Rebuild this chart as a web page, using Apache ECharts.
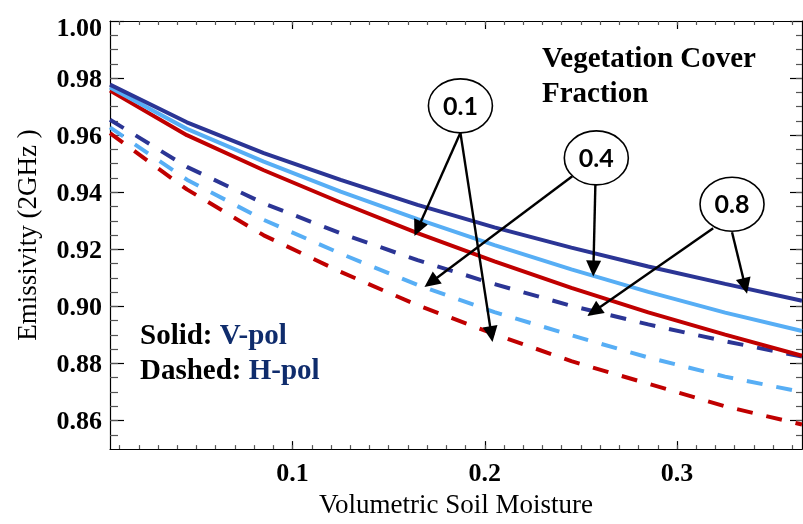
<!DOCTYPE html>
<html>
<head>
<meta charset="utf-8">
<script src="https://cdn.jsdelivr.net/npm/echarts@6/dist/echarts.min.js"></script>
<style>
  html, body { margin: 0; padding: 0; background: #fff; }
  #chart { width: 803px; height: 524px; }
</style>
</head>
<body>
<div id="chart"></div>
<script>
// Volumetric soil moisture sample points
const moisture = [0.005, 0.045, 0.085, 0.125, 0.165, 0.205, 0.245, 0.285, 0.325, 0.365];

// V-pol emissivity by vegetation cover fraction (solid lines)
const vpol08 = [0.9777, 0.9645, 0.9537, 0.9443, 0.9356, 0.9277, 0.9206, 0.9140, 0.9079, 0.9020];
const vpol04 = [0.9767, 0.9622, 0.9507, 0.9402, 0.9306, 0.9215, 0.9130, 0.9051, 0.8978, 0.8914];
const vpol01 = [0.9756, 0.9600, 0.9477, 0.9364, 0.9257, 0.9158, 0.9065, 0.8979, 0.8901, 0.8827];

// H-pol emissivity by vegetation cover fraction (dashed lines)
const hpol08 = [0.9654, 0.9489, 0.9361, 0.9256, 0.9162, 0.9078, 0.9002, 0.8937, 0.8878, 0.8824];
const hpol04 = [0.9627, 0.9444, 0.9303, 0.9185, 0.9075, 0.8980, 0.8899, 0.8821, 0.8754, 0.8700];
const hpol01 = [0.9607, 0.9410, 0.9249, 0.9121, 0.9004, 0.8903, 0.8808, 0.8729, 0.8650, 0.8586];

// Axis ranges and tick labels
const xRange = [0.005, 0.365];
const yRange = [0.85, 1.00];
const xTickLabels = [0.1, 0.2, 0.3];
const yTickLabels = [0.86, 0.88, 0.90, 0.92, 0.94, 0.96, 0.98, 1.00];

// Callouts: label, bubble centre and arrow start/tip points in data units
const callouts = [
  { label: '0.1', center: [0.1873, 0.97027],
    arrows: [ { from: [0.1873, 0.96081], to: [0.1634, 0.92466] },
              { from: [0.1873, 0.96081], to: [0.2040, 0.88750] } ] },
  { label: '0.4', center: [0.2580, 0.95203],
    arrows: [ { from: [0.2455, 0.94561], to: [0.1686, 0.90676] },
              { from: [0.2575, 0.94257], to: [0.2564, 0.91047] } ] },
  { label: '0.8', center: [0.3286, 0.93581],
    arrows: [ { from: [0.3188, 0.92736], to: [0.2533, 0.89662] },
              { from: [0.3286, 0.92601], to: [0.3364, 0.90439] } ] }
];

const SERIF = '"Liberation Serif", "Times New Roman", Times, serif';
const DARK = '#2b3595';
const LIGHT = '#57aef5';
const RED = '#c00000';
const NAVY = '#0f2c6c';

// minor tick positions
const xMinor = [];
for (let i = 1; i <= 36; i++) xMinor.push(+(i * 0.01).toFixed(3));
const yMinor = [];
for (let i = 1; i < 30; i++) yMinor.push(+(0.85 + i * 0.005).toFixed(3));

const pairs = (ys) => moisture.map((x, i) => [x, ys[i]]);

function xAxisDef(position, values, len, color, withLabel, withLine) {
  const ax = {
    type: 'value', position: position, min: xRange[0], max: xRange[1], interval: 0.005,
    axisLine: { show: withLine, onZero: false, lineStyle: { color: '#000', width: 1.2 } },
    axisTick: { show: true, inside: true, length: len, customValues: values,
                lineStyle: { color: color, width: 1.2 } },
    axisLabel: { show: false },
    splitLine: { show: false }
  };
  if (withLabel) {
    ax.axisLabel = {
      show: true, customValues: xTickLabels, margin: 12,
      formatter: (v) => (+v).toFixed(1),
      fontFamily: SERIF, fontWeight: 'bold', fontSize: 26, color: '#000', lineHeight: 26
    };
    ax.name = 'Volumetric Soil Moisture';
    ax.nameLocation = 'middle';
    ax.nameGap = 40;
    ax.nameTextStyle = { fontFamily: SERIF, fontSize: 27, color: '#000', lineHeight: 27 };
  }
  return ax;
}

function yAxisDef(position, values, len, color, withLabel, withLine) {
  const ax = {
    type: 'value', position: position, min: yRange[0], max: yRange[1], interval: 0.05,
    axisLine: { show: withLine, onZero: false, lineStyle: { color: '#000', width: 1.2 } },
    axisTick: { show: true, inside: true, length: len, customValues: values,
                lineStyle: { color: color, width: 1.2 } },
    axisLabel: { show: false },
    splitLine: { show: false }
  };
  if (withLabel) {
    const lab = { fontFamily: SERIF, fontWeight: 'bold', fontSize: 26, color: '#000', lineHeight: 26 };
    ax.axisLabel = {
      show: true, customValues: yTickLabels, margin: 8,
      formatter: (v) => (Math.abs(v - 1) < 1e-9 ? '{t|' : '{n|') + (+v).toFixed(2) + '}',
      rich: {
        n: Object.assign({ padding: [4, 0, 0, 0] }, lab),
        t: Object.assign({ padding: [16, 0, 0, 0] }, lab)
      }
    };
    ax.name = 'Emissivity (2GHz )';
    ax.nameLocation = 'middle';
    ax.nameGap = 68;
    ax.nameTextStyle = { fontFamily: SERIF, fontSize: 27, color: '#000', lineHeight: 27 };
  }
  return ax;
}

function lineSeries(name, ys, color, dashed) {
  return {
    name: name, type: 'line', data: pairs(ys), xAxisIndex: 0, yAxisIndex: 0,
    symbol: 'none', smooth: false, clip: true,
    lineStyle: { color: color, width: 4, type: dashed ? [16, 14] : 'solid', cap: 'butt' },
    z: dashed ? 2 : 3
  };
}

const chart = echarts.init(document.getElementById('chart'), null, { renderer: 'canvas' });

chart.setOption({
  animation: false,
  backgroundColor: '#fff',
  grid: { left: 110, right: 1, top: 12, bottom: 69 },
  xAxis: [
    xAxisDef('bottom', xTickLabels, 8, '#000', true, true),
    xAxisDef('bottom', xMinor, 4, '#555', false, false),
    xAxisDef('top', xTickLabels, 8, '#000', false, true),
    xAxisDef('top', xMinor, 4, '#555', false, false)
  ],
  yAxis: [
    yAxisDef('left', yTickLabels, 14, '#000', true, true),
    yAxisDef('left', yMinor, 8, '#555', false, false),
    yAxisDef('right', yTickLabels, 12, '#000', false, true),
    yAxisDef('right', yMinor, 6, '#555', false, false)
  ],
  series: [
    lineSeries('H-pol 0.1', hpol01, RED, true),
    lineSeries('H-pol 0.4', hpol04, LIGHT, true),
    lineSeries('H-pol 0.8', hpol08, DARK, true),
    lineSeries('V-pol 0.1', vpol01, RED, false),
    lineSeries('V-pol 0.4', vpol04, LIGHT, false),
    lineSeries('V-pol 0.8', vpol08, DARK, false)
  ]
});

// Annotations drawn in pixel space from data-unit anchors
const toPx = (p) => chart.convertToPixel({ gridIndex: 0 }, p);
const graphics = [];

callouts.forEach((c) => {
  c.arrows.forEach((a) => {
    const s = toPx(a.from), t = toPx(a.to);
    const dx = t[0] - s[0], dy = t[1] - s[1];
    const len = Math.hypot(dx, dy);
    const ux = dx / len, uy = dy / len;
    const headLen = 16, headHalf = 7.5;
    const bx = t[0] - ux * headLen, by = t[1] - uy * headLen;
    graphics.push({
      type: 'line', z: 50,
      shape: { x1: s[0], y1: s[1], x2: bx + ux * 2, y2: by + uy * 2 },
      style: { stroke: '#000', lineWidth: 2.4 }
    });
    graphics.push({
      type: 'polygon', z: 50,
      shape: { points: [ [t[0], t[1]],
                         [bx - uy * headHalf, by + ux * headHalf],
                         [bx + uy * headHalf, by - ux * headHalf] ] },
      style: { fill: '#000' }
    });
  });
  const cp = toPx(c.center);
  graphics.push({
    type: 'ellipse', z: 60,
    shape: { cx: cp[0], cy: cp[1], rx: 32, ry: 27 },
    style: { fill: '#fff', stroke: '#000', lineWidth: 1.6 }
  });
  graphics.push({
    type: 'text', z: 61, x: cp[0], y: cp[1] + 1,
    style: { text: c.label, fill: '#000', font: 'bold 25px Lato, "Open Sans", sans-serif',
             align: 'center', verticalAlign: 'middle' }
  });
});

graphics.push({
  type: 'text', z: 40, x: 542, y: 42,
  style: { text: 'Vegetation Cover\nFraction', fill: '#000', fontFamily: SERIF,
           fontWeight: 'bold', fontSize: 29, lineHeight: 35, align: 'left', verticalAlign: 'top' }
});

const keyRich = {
  k: { fontFamily: SERIF, fontWeight: 'bold', fontSize: 29, lineHeight: 35, fill: '#000' },
  v: { fontFamily: SERIF, fontWeight: 'bold', fontSize: 29, lineHeight: 35, fill: NAVY }
};
graphics.push({
  type: 'text', z: 40, x: 140, y: 319,
  style: { text: '{k|Solid: }{v|V-pol}\n{k|Dashed: }{v|H-pol}', rich: keyRich,
           align: 'left', verticalAlign: 'top' }
});

chart.setOption({ graphic: graphics });
</script>
</body>
</html>
